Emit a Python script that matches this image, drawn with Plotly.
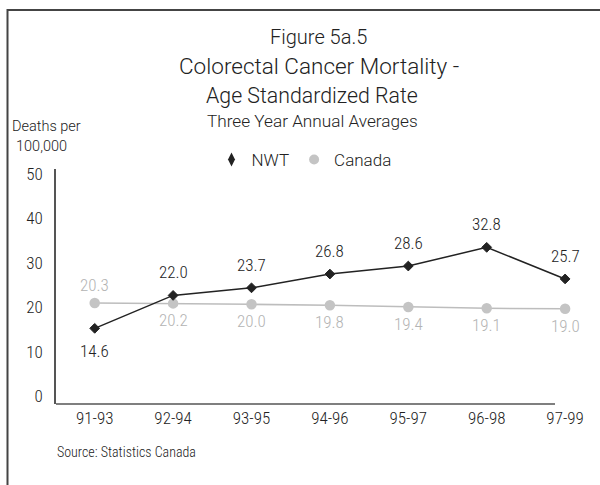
import plotly.graph_objects as go

# Three-year periods and age-standardized colorectal cancer death rates
periods = ["91-93", "92-94", "93-95", "94-96", "95-97", "96-98", "97-99"]
nwt_rates = [14.6, 22.0, 23.7, 26.8, 28.6, 32.8, 25.7]
canada_rates = [20.3, 20.2, 20.0, 19.8, 19.4, 19.1, 19.0]
y_ticks = [0, 10, 20, 30, 40, 50]

W, H = 600, 485
NARROW = "Roboto Condensed, Liberation Sans Narrow, DejaVu Sans Condensed, sans-serif"
WIDE = "Roboto, Lato, sans-serif"
LIGHT = 300
DARK = "#222222"
GREY_LINE = "#bdbdbd"
GREY_TEXT = "#b3b3b3"


def px(x):
    return x / W


def py(y):
    return 1 - y / H


# category spacing on the x axis, in pixels
step = 78.4
x_left = 56
first_cat = 94.7
x0 = -(first_cat - x_left) / step
x1 = x0 + (W - x_left) / step

fig = go.Figure()

fig.add_trace(go.Scatter(
    x=list(range(len(periods))), y=canada_rates, mode="lines+markers",
    line=dict(color=GREY_LINE, width=1.6),
    marker=dict(symbol="circle", size=10.5, color="#c4c4c4"),
    showlegend=False, cliponaxis=False, hoverinfo="skip",
))
fig.add_trace(go.Scatter(
    x=list(range(len(periods))), y=nwt_rates, mode="lines+markers",
    line=dict(color=DARK, width=1.5),
    marker=dict(symbol="diamond", size=7.5, color=DARK, line=dict(color=DARK, width=1)),
    showlegend=False, cliponaxis=False, hoverinfo="skip",
))

# legend entries (marker only)
fig.add_trace(go.Scatter(
    x=[None], y=[None], mode="markers", name="NWT",
    marker=dict(symbol="diamond-tall", size=10, color=DARK),
))
fig.add_trace(go.Scatter(
    x=[None], y=[None], mode="markers", name="Canada",
    marker=dict(symbol="circle", size=10, color="#c4c4c4"),
))

annotations = []

# value labels
nwt_shift = [-23, 23, 23, 23, 23, 23, 23]
for i, v in enumerate(nwt_rates):
    annotations.append(dict(
        x=i, y=v, xref="x", yref="y", text=f"{v:.1f}", showarrow=False,
        yshift=nwt_shift[i], font=dict(family=NARROW, size=17, color=DARK, weight=LIGHT),
    ))
can_shift = [18, -17, -17, -17, -17, -17, -17]
for i, v in enumerate(canada_rates):
    annotations.append(dict(
        x=i, y=v, xref="x", yref="y", text=f"{v:.1f}", showarrow=False,
        yshift=can_shift[i], font=dict(family=NARROW, size=17, color=GREY_TEXT, weight=LIGHT),
    ))

# titles
titles = [
    ("Figure 5a.5", 318, 37, 20),
    ("Colorectal Cancer Mortality -", 319, 66, 22.5),
    ("Age Standardized Rate", 312, 96, 21.3),
    ("Three Year Annual Averages", 312, 121, 17.2),
]
for text, cx, cy, size in titles:
    annotations.append(dict(
        x=px(cx), y=py(cy), xref="paper", yref="paper", text=text,
        showarrow=False, xanchor="center", yanchor="middle",
        font=dict(family=WIDE, size=size, color=DARK, weight=LIGHT),
    ))

# y axis caption
annotations.append(dict(
    x=px(10), y=py(127), xref="paper", yref="paper", text="Deaths per",
    showarrow=False, xanchor="left", yanchor="middle",
    font=dict(family=WIDE, size=14.5, color=DARK, weight=LIGHT),
))
annotations.append(dict(
    x=px(41), y=py(146), xref="paper", yref="paper", text="100,000",
    showarrow=False, xanchor="center", yanchor="middle",
    font=dict(family=WIDE, size=14.5, color=DARK, weight=LIGHT),
))

# source note
annotations.append(dict(
    x=px(55), y=py(452), xref="paper", yref="paper", text="Source: Statistics Canada",
    showarrow=False, xanchor="left", yanchor="middle",
    font=dict(family=NARROW, size=14, color=DARK, weight=LIGHT),
))

shapes = [
    # outer frame (open to the right and bottom)
    dict(type="rect", xref="paper", yref="paper",
         x0=px(7.5), x1=px(W + 10), y0=py(10), y1=py(H + 10),
         line=dict(color="#444444", width=2), fillcolor="rgba(0,0,0,0)", layer="below"),
    # x axis baseline
    dict(type="line", xref="paper", yref="paper",
         x0=px(56), x1=px(555), y0=py(404), y1=py(404),
         line=dict(color="#555555", width=1.5)),
]

fig.update_layout(
    width=W, height=H,
    margin=dict(l=0, r=0, t=0, b=0, pad=0, autoexpand=False),
    paper_bgcolor="white", plot_bgcolor="white",
    font=dict(family=NARROW, color=DARK),
    xaxis=dict(
        domain=[px(x_left), 1], range=[x0, x1],
        tickmode="array", tickvals=list(range(len(periods))), ticktext=periods,
        showgrid=False, zeroline=False, showline=False, ticks="",
        tickfont=dict(family=NARROW, size=17, color=DARK, weight=LIGHT),
        ticklabelstandoff=2,
    ),
    yaxis=dict(
        domain=[py(404), py(169)], range=[-2.4, 50.4],
        tickmode="array", tickvals=y_ticks,
        showgrid=False, zeroline=False, showline=True,
        linecolor="#555555", linewidth=1.5, ticks="",
        tickfont=dict(family=NARROW, size=17, color=DARK, weight=LIGHT),
        ticklabelstandoff=8, ticklabelshift=3,
    ),
    legend=dict(
        orientation="h", x=px(304), y=py(160), xanchor="center", yanchor="middle",
        font=dict(family=WIDE, size=17, color=DARK, weight=LIGHT),
        bgcolor="rgba(0,0,0,0)", itemclick=False,
    ),
    annotations=annotations,
    shapes=shapes,
    showlegend=True,
)

fig.write_html("out.html")
